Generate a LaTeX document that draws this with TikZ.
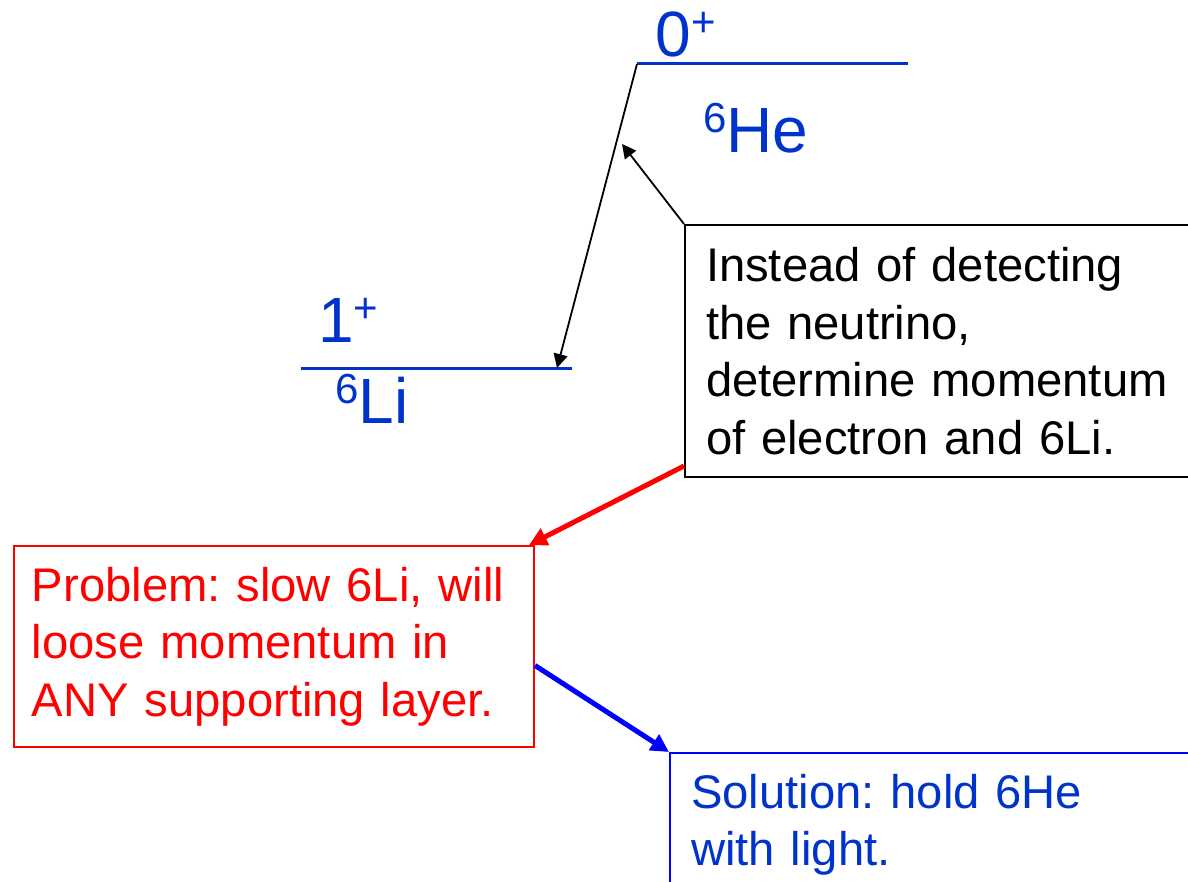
\documentclass[tikz,border=0pt]{standalone}
\usepackage{fontspec}
\setmainfont{Liberation Sans}
\usetikzlibrary{arrows.meta}
\definecolor{levelblue}{HTML}{0033CC}
\definecolor{noteblue}{HTML}{0000FF}
\definecolor{notered}{HTML}{FF0000}
\newcommand{\isosup}[1]{\raisebox{10pt}{\fontsize{21}{21}\selectfont #1}}
\frenchspacing

\begin{document}
\begin{tikzpicture}[
		x=0.5pt,y=-0.5pt,
		level/.style={levelblue,line width=1.5pt},
		level label/.style={levelblue,inner sep=0pt,anchor=base west,
			font=\fontsize{32}{38}\selectfont},
		note/.style={draw,line width=1pt,anchor=north west,align=left,
			inner xsep=10.5pt,inner ysep=10.5pt,
			font=\fontsize{23.6}{28.75}\selectfont},
		pointer/.style={-{Triangle[length=7pt,width=7pt]},line width=0.9pt},
		flow/.style={-{Triangle[length=9pt,width=9pt]},line width=2.5pt}
		]
		\useasboundingbox (0,0) rectangle (1188,882);
		\clip (0,0) rectangle (1188,882);

		\coordinate (he-l)   at (637,64);
		\coordinate (he-r)   at (908,64);
		\coordinate (li-l)   at (301,368);
		\coordinate (li-r)   at (572,368);
		\coordinate (li-hit) at (557,368);
		\coordinate (decay)  at (622,144);

		\draw[level] (he-l) -- (he-r);
		\draw[level] (li-l) -- (li-r);

		\node[level label] (he-spin) at (655,57)  {0\isosup{+}};
		\node[level label] (he-name) at (703,153) {\isosup{6}He};
		\node[level label] (li-spin) at (318,343) {1\isosup{+}};
		\node[level label] (li-name) at (335,423) {\isosup{6}Li};

		\node[note,text width=260pt,minimum height=126pt] (idea) at (684,224)
			{Instead of detecting\\the neutrino,\\determine momentum\\of electron and 6Li.};
		\node[note,notered,text width=242pt,minimum height=97pt,inner xsep=9pt] (problem) at (13,545)
			{Problem: slow 6Li, will\\loose momentum in\\ANY supporting layer.};
		\node[note,noteblue,text=levelblue,text width=260pt,line width=1.2pt] (solution) at (669,752)
			{Solution: hold 6He\\with light.};

		\draw[pointer] (he-l) -- (li-hit);
		\draw[pointer] (idea.north west) -- (decay);
		\draw[flow,notered] ([yshift=6pt]idea.south west) -- ([xshift=-3pt]problem.north east);
		\draw[flow,noteblue] ([yshift=-9.5pt]problem.east) -- (solution.north west);
	\end{tikzpicture}
\end{document}
